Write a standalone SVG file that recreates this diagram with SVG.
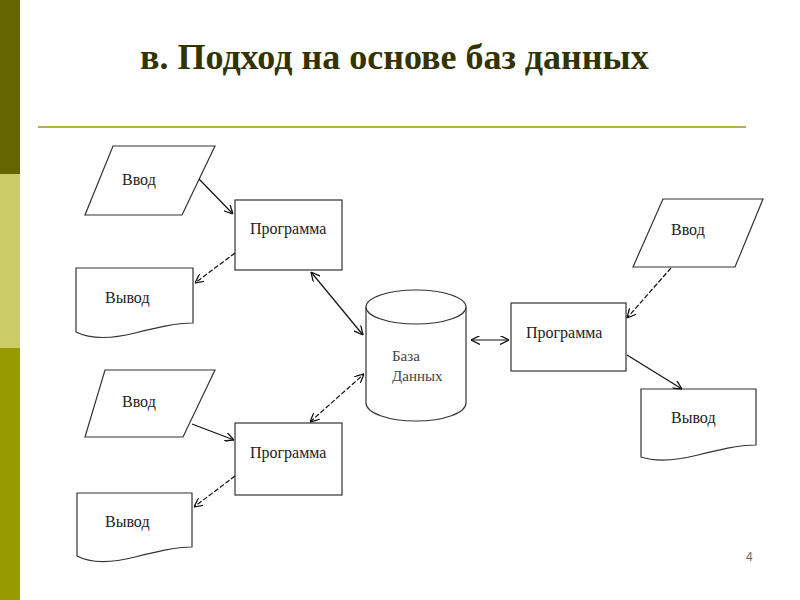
<svg xmlns="http://www.w3.org/2000/svg" width="800" height="600" viewBox="0 0 800 600">
<style>
.shape{fill:#fff;stroke:#333;stroke-width:1.2}
.lbl{font-family:"Liberation Serif","Times New Roman",serif;font-size:16px;fill:#222}
.db{font-family:"Liberation Serif","Times New Roman",serif;font-size:15px;fill:#444}
.con{fill:none;stroke:#111;stroke-width:1.2}
.dash{stroke-dasharray:5,2}
</style>
<defs>
<marker id="ah" viewBox="0 0 10 10" refX="10" refY="5" markerWidth="9" markerHeight="9" markerUnits="userSpaceOnUse" orient="auto-start-reverse">
<path d="M0,0 L10,5 L0,10" fill="none" stroke="#111" stroke-width="1.4"/>
</marker>
</defs>
<rect width="800" height="600" fill="#fff"/>
<g id="sidebar">
<rect x="0" y="0" width="20" height="174" fill="#666600"/>
<rect x="0" y="174" width="20" height="174" fill="#CCCC66"/>
<rect x="0" y="348" width="20" height="252" fill="#999900"/>
</g>
<g id="title">
<text x="140" y="69" font-family="'Liberation Serif','Times New Roman',serif" font-weight="bold" font-size="36" fill="#333300">в. Подход на основе баз данных</text>
<line x1="38" y1="127" x2="746" y2="127" stroke="#B3B34D" stroke-width="2"/>
</g>
<g id="in1"><polygon class="shape" points="113,146 215,146 182,215 85,215"/><text class="lbl" x="122" y="185">Ввод</text></g>
<g id="prog1"><rect class="shape" x="235" y="200" width="107" height="70"/><text class="lbl" x="250" y="234">Программа</text></g>
<g id="out1"><path class="shape" d="M76,268 L193,268 L193,323 C175,323 155,328 135,333 C115,338 92,340 76,332 Z"/><text class="lbl" x="105" y="303">Вывод</text></g>
<g id="in2"><polygon class="shape" points="105,370 215,370 183,437 85,437"/><text class="lbl" x="122" y="407">Ввод</text></g>
<g id="prog2"><rect class="shape" x="235" y="423" width="107" height="72"/><text class="lbl" x="250" y="458">Программа</text></g>
<g id="out2"><path class="shape" d="M77,493 L192,493 L192,547 C175,547 155,552 135,557 C115,562 92,564 77,556 Z"/><text class="lbl" x="105" y="527">Вывод</text></g>
<g id="db">
<path class="shape" d="M366,307 L366,403 A50,18 0 0 0 466,403 L466,307"/>
<ellipse class="shape" cx="416" cy="307" rx="50" ry="17"/>
<text class="db" x="392" y="361">База</text>
<text class="db" x="392" y="381">Данных</text>
</g>
<g id="prog3"><rect class="shape" x="511" y="303" width="115" height="68"/><text class="lbl" x="526" y="338">Программа</text></g>
<g id="in3"><polygon class="shape" points="663,199 763,199 735,267 633,267"/><text class="lbl" x="671" y="235">Ввод</text></g>
<g id="out3"><path class="shape" d="M641,389 L756,389 L756,445 C738,445 718,450 698,455 C678,460 656,462 641,457 Z"/><text class="lbl" x="671" y="423">Вывод</text></g>
<g id="connectors">
<line class="con" x1="199" y1="179" x2="233" y2="214" marker-end="url(#ah)"/>
<line class="con dash" x1="235" y1="253" x2="195" y2="283" marker-end="url(#ah)"/>
<line class="con" x1="311" y1="272" x2="363" y2="335" marker-start="url(#ah)" marker-end="url(#ah)"/>
<line class="con" x1="192" y1="424" x2="234" y2="440" marker-end="url(#ah)"/>
<line class="con dash" x1="235" y1="476" x2="194" y2="507" marker-end="url(#ah)"/>
<line class="con dash" x1="310" y1="422" x2="364" y2="374" marker-start="url(#ah)" marker-end="url(#ah)"/>
<line class="con" x1="471" y1="340" x2="509" y2="340" marker-start="url(#ah)" marker-end="url(#ah)"/>
<line class="con dash" x1="671" y1="268" x2="627" y2="318" marker-end="url(#ah)"/>
<line class="con" x1="627" y1="355" x2="682" y2="389" marker-end="url(#ah)"/>
</g>
<text x="746" y="561" font-family="'Liberation Sans',Arial,sans-serif" font-size="12" fill="#666">4</text>
</svg>
